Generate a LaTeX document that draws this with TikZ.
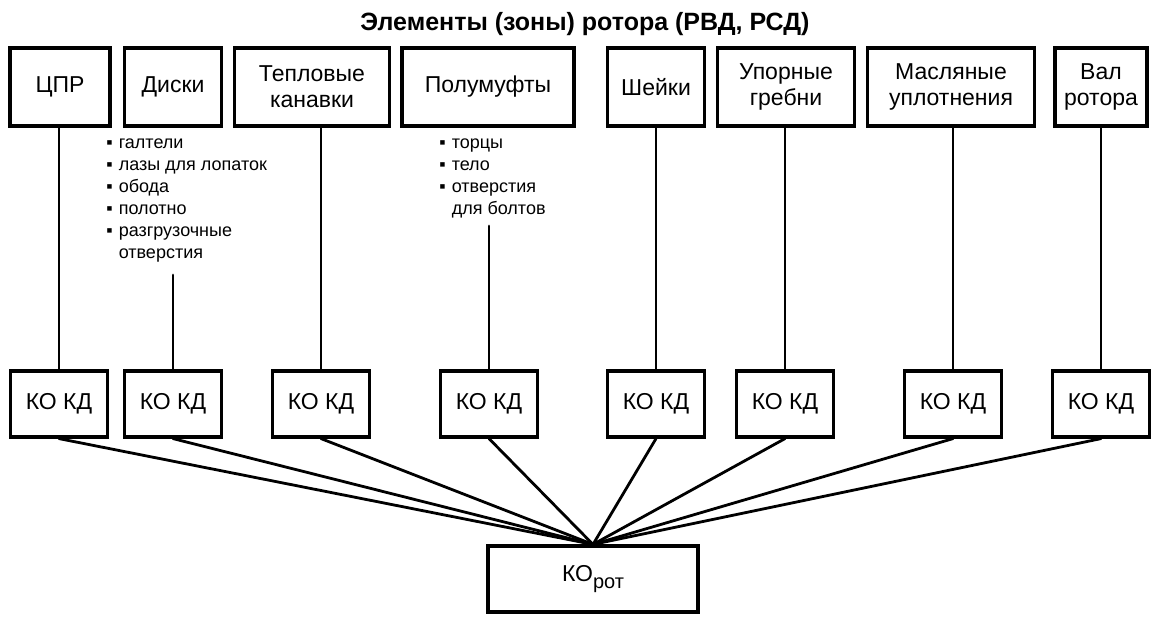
\documentclass[tikz,border=0pt]{standalone}
\usepackage{fontspec}
\setmainfont{Liberation Sans}

\begin{document}
\begin{tikzpicture}[x=0.5pt,y=-0.5pt,
    elbox/.style={draw,line width=1.6pt,minimum height=39pt,inner sep=0pt,align=center,font=\fontsize{11.5}{13}\selectfont},
    kobox/.style={draw,line width=1.6pt,minimum width=48.5pt,minimum height=33pt,inner sep=0pt,font=\fontsize{11.5}{13}\selectfont},
    link/.style={line width=1.4pt,line cap=round},
    zonelist/.style={anchor=north west,inner sep=0pt,font=\fontsize{9}{11}\selectfont}]
    \useasboundingbox (0,0) rectangle (1151,616);
    % Заголовок
    \node[font=\bfseries\fontsize{12.5}{15}\selectfont] (title) at (585,24) {Элементы (зоны) ротора (РВД, РСД)};
    % Элементы ротора
    \foreach \i/\x/\w/\t in {1/60/100/ЦПР, 2/173/97/Диски, 3/312/155/{Тепловые\\канавки},
        4/488/172/Полумуфты, 5/656/97/Шейки, 6/786/137/{Упорные\\гребни},
        7/951/167/{Масляные\\уплотнения}, 8/1101/92/{Вал\\ротора}}
        \node[elbox,minimum width=0.5pt*\w] (el\i) at (\x,87) {\t};
    % Перечни зон
    \node[zonelist] (list2) at (106,133) {\begin{tabular}{@{}l@{\hspace{3pt}}l@{}}
        ▪&галтели\\ ▪&лазы для лопаток\\ ▪&обода\\ ▪&полотно\\ ▪&разгрузочные\\ &отверстия
        \end{tabular}};
    \node[zonelist] (list4) at (439,133) {\begin{tabular}{@{}l@{\hspace{3pt}}l@{}}
        ▪&торцы\\ ▪&тело\\ ▪&отверстия\\ &для болтов
        \end{tabular}};
    \coordinate (l2) at (173,275);
    \coordinate (l4) at (489,226);
    % Контроль КО КД
    \foreach \i/\x in {1/59,2/173,3/321,4/489,5/656,6/785,7/953,8/1101}
        \node[kobox] (kd\i) at (\x,404) {КО КД};
    \node[kobox,minimum width=105pt] (korot) at (593,579) {КО\raisebox{-0.5ex}{\fontsize{10}{10}\selectfont рот}};
    % Связи
    \foreach \i in {1,3,5,6,7,8}
        \draw[link] (el\i.south -| kd\i.north) -- (kd\i.north);
    \draw[link] (l2) -- (kd2.north);
    \draw[link] (l4) -- (kd4.north);
    \foreach \i in {1,...,8}
        \draw[link] (kd\i.south) -- (korot.north);
\end{tikzpicture}
\end{document}
